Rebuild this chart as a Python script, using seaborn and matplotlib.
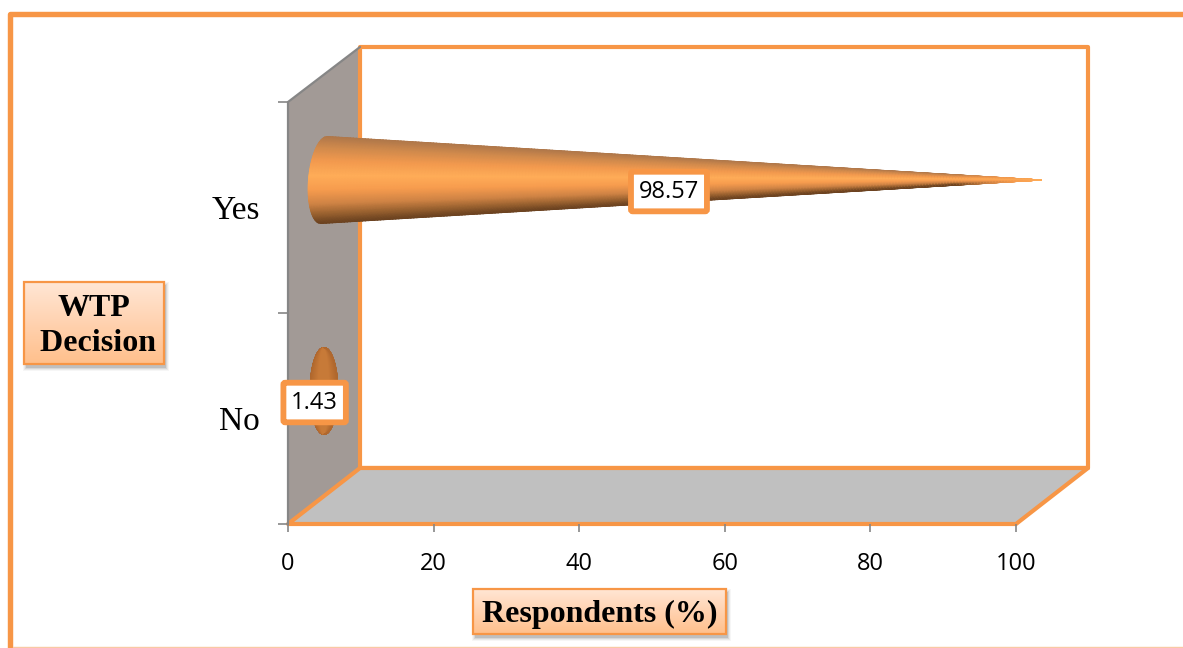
import numpy as np
import pandas as pd
import matplotlib
matplotlib.use("Agg")
import matplotlib.pyplot as plt
import seaborn as sns
from matplotlib.colors import LinearSegmentedColormap
from matplotlib.patches import Polygon, Rectangle

# Survey results
decisions = ["Yes", "No"]
respondents = [98.57, 1.43]
x_ticks = [0, 20, 40, 60, 80, 100]

W, H = 1183, 648
ORANGE = "#F79646"
GREY = "#868686"
SERIF = "Liberation Serif"
SANS = "Open Sans"

sns.set_theme(style="white")
fig = plt.figure(figsize=(W / 100, H / 100), dpi=100, facecolor="white")

# Full-figure layer in pixel units for the page frame, walls and caption boxes
page = fig.add_axes([0, 0, 1, 1], zorder=0)
page.set_xlim(0, W)
page.set_ylim(H, 0)
page.axis("off")

# Page frame: open on the right, hairline along the bottom
page.plot([10.5, 10.5, W + 5], [H + 5, 13.5, 13.5], color=ORANGE, lw=3.9,
          solid_joinstyle="round", clip_on=False)
page.plot([13, W], [646.5, 646.5], color="#F9C9A4", lw=1)

# Side wall
wall = np.array([[288, 102], [360, 47], [360, 468], [288, 524]])
page.add_patch(Polygon(wall, closed=True, fc="#A29A96", ec="none"))
page.plot([288, 288, 360], [524, 102, 47], color=GREY, lw=1.6)

# Back plane
page.add_patch(Rectangle((360, 47), 728, 421, fc="white", ec=ORANGE, lw=3.0,
                         joinstyle="round"))

# Floor
floor = np.array([[288, 524], [360, 468], [1088, 468], [1016, 524]])
page.add_patch(Polygon(floor, closed=True, fc="#C0C0C0", ec=ORANGE, lw=3.0,
                       joinstyle="round"))


def caption(x0, y0, x1, y1, text):
    """Caption box with a soft shadow and a vertical peach gradient."""
    for grow, alpha in [(7, 0.05), (5, 0.08), (3, 0.12), (1, 0.18)]:
        page.add_patch(Rectangle((x0 + 2 - grow / 2, y0 + 3 - grow / 2),
                                 x1 - x0 + grow, y1 - y0 + grow,
                                 fc="#555555", ec="none", alpha=alpha))
    ramp = LinearSegmentedColormap.from_list("peach", ["#FFE6D4", "#FFD2B0", "#FFC08C"])
    page.imshow(np.linspace(0, 1, 64)[:, None], cmap=ramp, aspect="auto",
                extent=(x0, x1, y1, y0), zorder=2)
    page.add_patch(Rectangle((x0, y0), x1 - x0, y1 - y0, fc="none", ec=ORANGE,
                             lw=1.6, zorder=3))
    page.text((x0 + x1) / 2, (y0 + y1) / 2 + 3, text, family=SERIF, weight="bold",
              fontsize=23, color="black", ha="center", va="center",
              linespacing=1.25, zorder=4)


caption(24.5, 282, 164, 364, "WTP\n Decision")
caption(473.5, 589, 726, 634, "Respondents (%)")
page.set_xlim(0, W)
page.set_ylim(H, 0)

# Front plane of the chart holds the data scales
front = [288 / W, 1 - 524 / H, 728 / W, 422 / H]
ax = fig.add_axes(front, zorder=1)
ax.patch.set_alpha(0)

table = pd.DataFrame({"decision": decisions, "respondents": respondents})
sns.barplot(data=table, y="decision", x="respondents", order=decisions,
            orient="h", ax=ax, width=0.4)
ax.set_xlim(0, 100)
ax.set_ylim(1.5, -0.5)
ax.set_xlabel("")
ax.set_ylabel("")
ax.set_xticks(x_ticks)
ax.set_yticks([-0.5, 0.5, 1.5], minor=True)
for side in ax.spines:
    ax.spines[side].set_visible(False)
ax.tick_params(axis="y", which="major", length=0, pad=20, labelsize=24)
ax.tick_params(axis="y", which="minor", left=True, length=7, width=1.2, color=GREY)
ax.tick_params(axis="x", which="major", bottom=True, length=6, width=1.2, color=GREY,
               pad=14, labelsize=17)
for lab in ax.get_yticklabels():
    lab.set_family(SERIF)
    lab.set_color("black")
for lab in ax.get_xticklabels():
    lab.set_family(SANS)
    lab.set_color("black")

# Numeric twin of the front plane: cones need 2-D mesh coordinates
cones = fig.add_axes(front, zorder=2)
cones.set_xlim(ax.get_xlim())
cones.set_ylim(ax.get_ylim())
cones.axis("off")

# Shading around the cone, from upper edge (t=-1) to lower edge (t=1)
shade = LinearSegmentedColormap.from_list("cone", [
    (0.00, "#B0784A"), (0.12, "#D08A4C"), (0.28, "#F39A4E"), (0.45, "#FFAD58"),
    (0.62, "#F79C4E"), (0.78, "#D08445"), (0.90, "#9A6230"), (1.00, "#6B4220"),
])
cap_shade = LinearSegmentedColormap.from_list("cap", [
    (0.00, "#B0682E"), (0.30, "#C87A38"), (0.70, "#C87A38"), (1.00, "#B0682E"),
])

# Depth of the bars inside the 3-D box, in data units
depth_x = 36 / 7.28
depth_y = -27.5 / 211
radius = 43.5 / 211
semi_minor = 15.5 / 7.28
cap_semi_minor = 14 / 7.28
label_nudge = [-1.9, -2.0]

for bar, nudge in zip(list(ax.patches), label_nudge):
    value = bar.get_width()
    centre = bar.get_y() + bar.get_height() / 2
    bar.set_visible(False)

    t = np.linspace(-1, 1, 121)
    s = np.linspace(0, 1, 241)
    T, S = np.meshgrid(t, s)
    bulge = np.sqrt(1 - T ** 2)
    if value < semi_minor:
        # The apex stays inside the base ellipse, so only the base shows
        X = depth_x + cap_semi_minor * bulge * (2 * S - 1)
        Y = centre + depth_y + radius * T
        cmap, level = cap_shade, S
    else:
        lean = -0.45 * T * (1 - S)
        X = depth_x + (lean - semi_minor * bulge) * (1 - S) + S * value
        Y = centre + depth_y + radius * T * (1 - S)
        # The bands merge into plain orange over the last part of the cone
        fade = np.clip((1 - S) / 0.12, 0, 1)
        cmap, level = shade, 0.45 + ((T + 1) / 2 - 0.45) * fade
    cones.pcolormesh(X, Y, level, cmap=cmap, vmin=0, vmax=1, shading="gouraud",
                     clip_on=False, zorder=3)

    cones.annotate(f"{value:.2f}", xy=(value / 2 + depth_x + nudge, centre + depth_y),
                   xytext=(0, -8.3), textcoords="offset points", ha="center", va="center",
                   family=SANS, fontsize=17, color="black", zorder=5,
                   annotation_clip=False,
                   bbox=dict(boxstyle="round,pad=0.33,rounding_size=0.08", fc="white",
                             ec=ORANGE, lw=4.2))

cones.set_xlim(ax.get_xlim())
cones.set_ylim(ax.get_ylim())

fig.savefig("out.png", dpi=100, facecolor="white")
